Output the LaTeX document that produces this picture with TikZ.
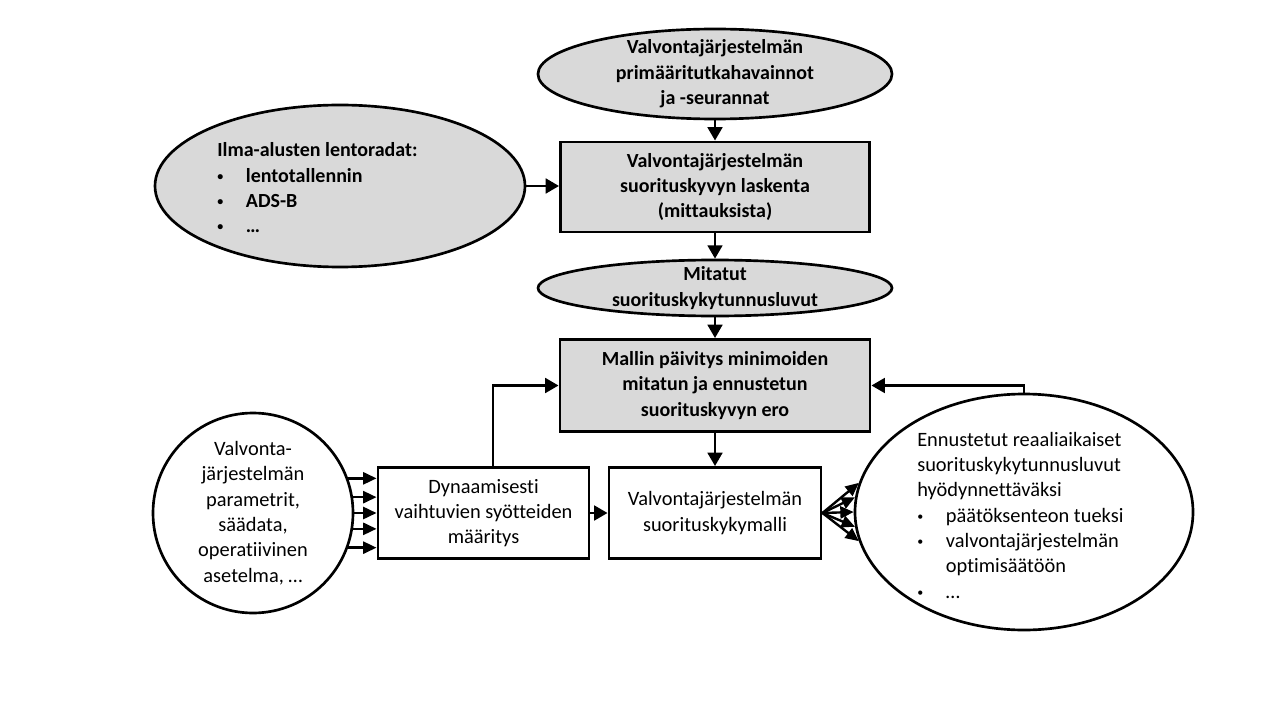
\documentclass[tikz,border=0pt]{standalone}
\usepackage{fontspec}
\setmainfont{Carlito}[Ligatures={NoCommon}]
\usetikzlibrary{shapes.geometric,arrows.meta}
\definecolor{boxgray}{HTML}{D9D9D9}
\newcommand{\itm}[1]{\makebox[21.5pt][l]{\raisebox{1.5pt}{\fontsize{9}{9}\selectfont\textbullet}}#1}
\tikzset{
  every node/.style={font=\fontsize{15.3}{19}\selectfont, align=center},
  grayell/.style={ellipse, draw, line width=2pt, fill=boxgray, inner xsep=0pt, inner ysep=-4pt, font=\fontsize{15}{19}\selectfont\bfseries},
  graybox/.style={rectangle, draw, line width=2.2pt, fill=boxgray, inner sep=0pt, font=\fontsize{15}{19}\selectfont\bfseries},
  whitebox/.style={rectangle, draw, line width=2.2pt, fill=white, inner sep=0pt},
  listtext/.style={align=left, inner sep=0pt},
  arr/.style={-{Triangle[length=10pt,width=11pt]}, line width=2pt},
  fanarr/.style={-{Triangle[length=10pt,width=9pt]}, line width=1.8pt}
}
\begin{document}
\begin{tikzpicture}[x=0.75pt,y=-0.75pt]
  \useasboundingbox (0,0) rectangle (1280,720);
  \node[grayell, minimum width=265.5pt, minimum height=67.5pt] (src) at (715,74)
    {Valvontajärjestelmän\\primääritutkahavainnot\\ja -seurannat};
  \node[grayell, minimum width=277.5pt, minimum height=121.5pt] (tracks) at (340,186) {};
  \node[listtext, anchor=west, font=\fontsize{15}{19}\selectfont\bfseries] (trackslist) at (217,188)
    {Ilma-alusten lentoradat:\\\itm{lentotallennin}\\\itm{ADS-B}\\\itm{\dots}};
  \node[graybox, minimum width=231.75pt, minimum height=67.5pt] (calc) at (715,187)
    {Valvontajärjestelmän\\suorituskyvyn laskenta\\(mittauksista)};
  \node[grayell, minimum width=265.5pt, minimum height=42pt] (meas) at (715,288)
    {Mitatut\\suorituskykytunnusluvut};
  \node[graybox, minimum width=232.5pt, minimum height=69pt] (update) at (715,385.5)
    {Mallin päivitys minimoiden\\mitatun ja ennustetun\\suorituskyvyn ero};
  \node[circle, draw, line width=2pt, inner sep=0pt, minimum size=150pt] (params) at (253,513)
    {Valvonta-\\järjestelmän\\parametrit,\\säädata,\\operatiivinen\\asetelma, \dots};
  \node[whitebox, minimum width=158.25pt, minimum height=68.25pt] (dyn) at (483.5,513)
    {Dynaamisesti\\vaihtuvien syötteiden\\määritys};
  \node[whitebox, minimum width=159pt, minimum height=68.25pt] (model) at (715,513)
    {Valvontajärjestelmän\\suorituskykymalli};
  \node[ellipse, draw, line width=2pt, inner sep=0pt, minimum width=253.5pt, minimum height=177pt] (use) at (1024,512) {};
  \node[listtext, anchor=west] (uselist) at (917,515)
    {Ennustetut reaaliaikaiset\\suorituskykytunnusluvut\\hyödynnettäväksi\\\itm{päätöksenteon tueksi}\\\itm{valvontajärjestelmän}\\\hspace*{21.5pt}optimisäätöön\\\itm{\dots}};

  \draw[arr] (src) -- (calc);
  \draw[arr] (tracks.east) -- (tracks.east -| calc.west);
  \draw[arr] (calc) -- (meas);
  \draw[arr] (meas) -- (update);
  \draw[arr] (update) -- (model);
  \draw[arr] (dyn) -- (model);
  \draw[arr] ([xshift=7pt]dyn.north) |- (update.west);
  \draw[arr] (use.north) |- (update.east);
  \foreach \a in {20,9,0,-9,-20}
    \draw[fanarr] (params.\a) -- (params.\a -| dyn.west);
  \foreach \a in {170,175,180,185,190}
    \draw[fanarr] (model.east) -- (use.\a);
\end{tikzpicture}
\end{document}
